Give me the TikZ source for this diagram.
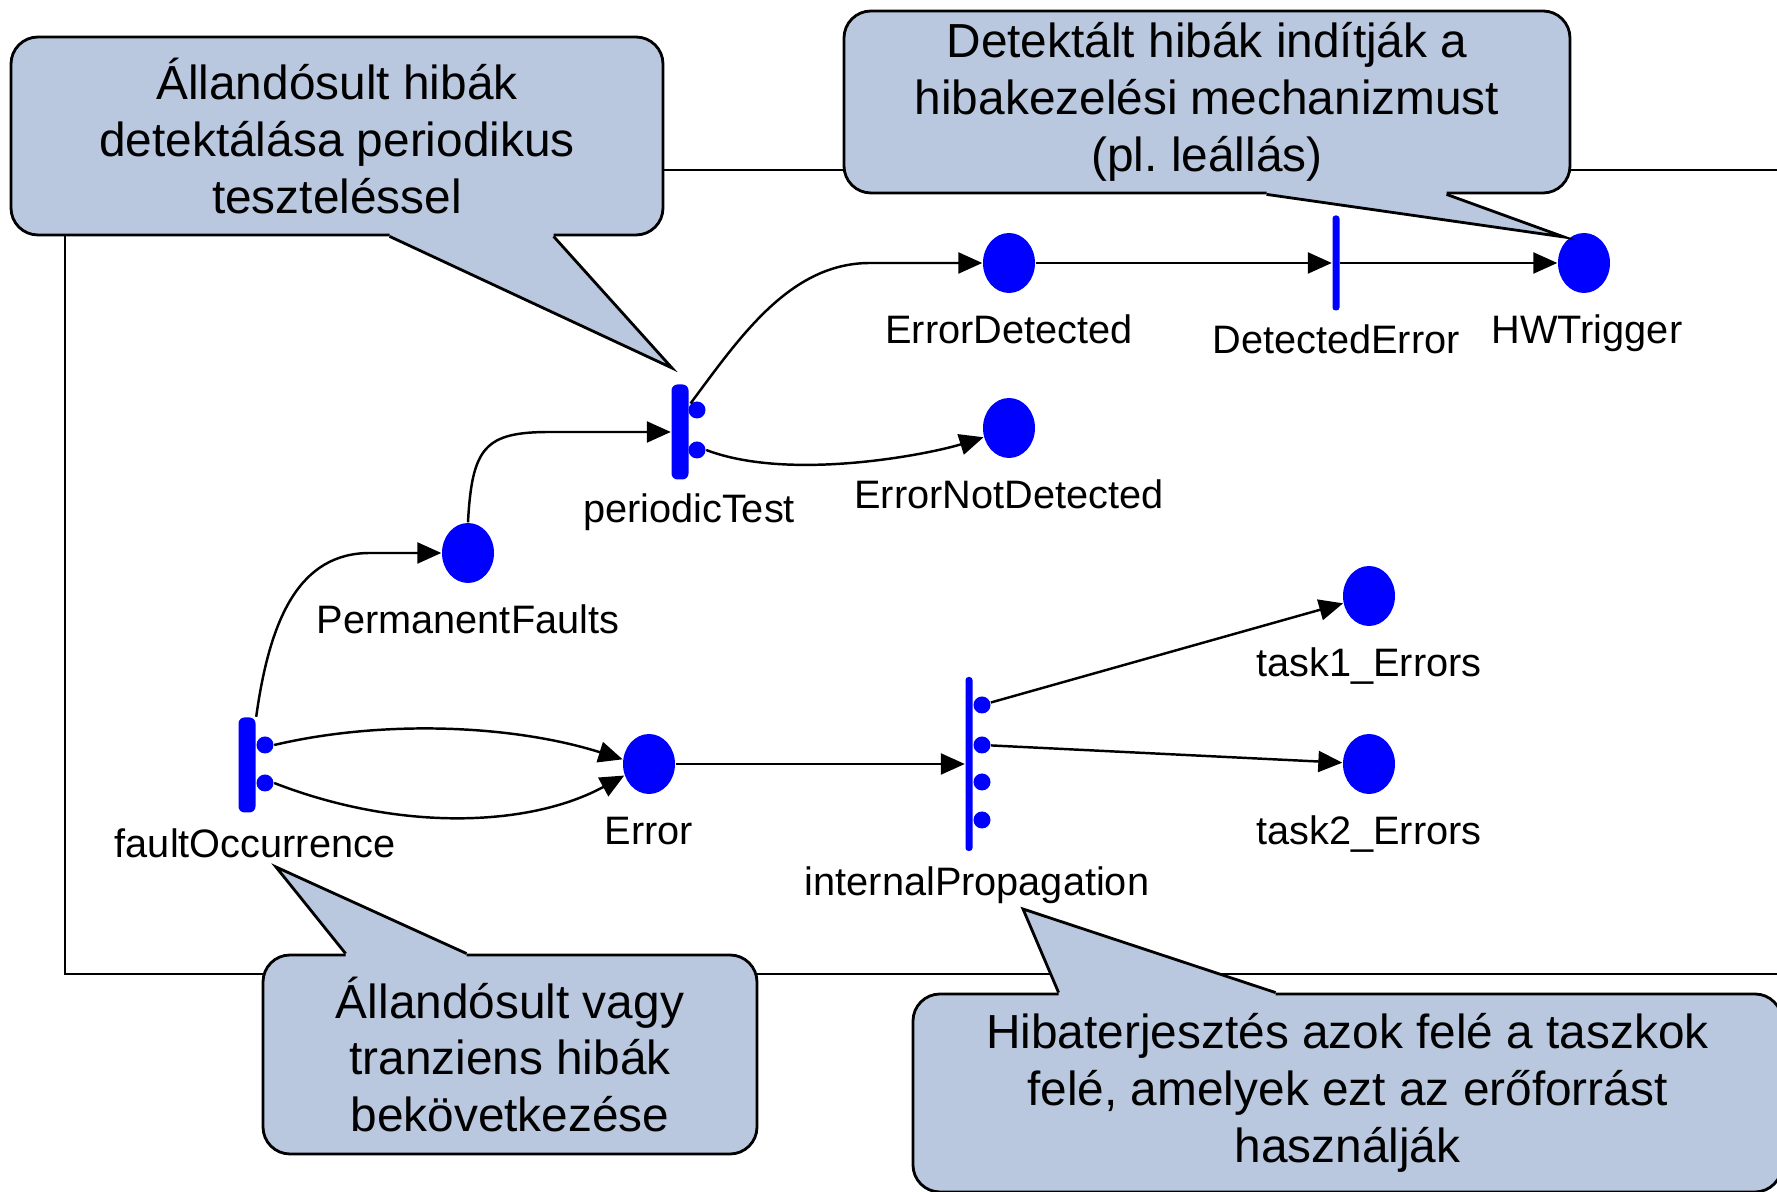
\documentclass[tikz,border=0pt]{standalone}
\usepackage{fontspec}
\setmainfont{Liberation Sans}
\usetikzlibrary{shapes.geometric,arrows.meta,positioning,calc}
\frenchspacing

\definecolor{bubblefill}{RGB}{185,200,222}
\definecolor{netblue}{RGB}{0,0,255}

\begin{document}
\begin{tikzpicture}[
  placenode/.style={fill=netblue, ellipse, minimum width=0.52cm, minimum height=0.60cm, inner sep=0pt},
  transbar/.style={fill=netblue, rectangle, rounded corners=0.06cm, minimum width=0.17cm, minimum height=0.95cm, inner sep=0pt},
  thinbar/.style={transbar, minimum width=0.07cm, rounded corners=0.03cm},
  port/.style={fill=netblue, circle, minimum size=0.17cm, inner sep=0pt},
  lbl/.style={inner sep=0pt, text height=8.5pt, text depth=2.5pt, font=\fontsize{11.3}{13}\selectfont},
  flow/.style={-{Triangle[length=2.4mm, width=2.1mm]}, line width=0.7pt},
  bubble/.style={draw, line width=0.8pt, fill=bubblefill, rounded corners=0.27cm, align=center, inner sep=0pt, font=\fontsize{13.6}{16.2}\selectfont}
]
\useasboundingbox (0,0) rectangle (17.77,11.92);
\clip (0,0) rectangle (17.77,11.92);

% keret
\draw[line width=0.8pt] (0.65,2.18) rectangle (18.5,10.22);

% helyek
\node[placenode] (ed) at (10.09,9.29) {};
\node[placenode] (en) at (10.09,7.64) {};
\node[placenode] (hw) at (15.84,9.29) {};
\node[placenode] (pf) at (4.68,6.39) {};
\node[placenode] (er) at (6.49,4.28) {};
\node[placenode] (t1) at (13.69,5.96) {};
\node[placenode] (t2) at (13.69,4.28) {};

% tranziciok
\node[transbar] (fo) at (2.47,4.27) {};
\node[port] (fo1) at (2.65,4.47) {};
\node[port] (fo2) at (2.65,4.09) {};
\node[transbar] (pt) at (6.80,7.60) {};
\node[port] (pt1) at (6.97,7.82) {};
\node[port] (pt2) at (6.97,7.42) {};
\node[thinbar] (de) at (13.36,9.29) {};
\node[thinbar, minimum height=1.74cm] (ip) at (9.69,4.28) {};
\foreach \i/\y in {1/4.87, 2/4.47, 3/4.10, 4/3.72}
  \node[port] (ip\i) at (9.82,\y) {};

% feliratok
\node[lbl, below=0.19cm of ed] (edl) {ErrorDetected};
\node[lbl, below=0.19cm of en] (enl) {ErrorNotDetected};
\node[lbl, below=0.19cm of hw, xshift=0.03cm] (hwl) {HWTrigger};
\node[lbl, below=0.12cm of de] (del) {DetectedError};
\node[lbl, below=0.12cm of pt, xshift=0.09cm] (ptl) {periodicTest};
\node[lbl, below=0.19cm of pf] (pfl) {PermanentFaults};
\node[lbl, below=0.14cm of fo, xshift=0.08cm] (fol) {faultOccurrence};
\node[lbl, below=0.19cm of er] (erl) {Error};
\node[lbl, below=0.13cm of ip, xshift=0.08cm] (ipl) {internalPropagation};
\node[lbl, below=0.19cm of t1] (t1l) {task1\_Errors};
\node[lbl, below=0.19cm of t2] (t2l) {task2\_Errors};

% elek
\draw[flow] (fo.north east) .. controls (2.70,5.75) and (3.00,6.39) .. (3.70,6.39) -- (pf.west);
\draw[flow] (pf.north) .. controls (4.72,7.45) and (4.85,7.60) .. (5.50,7.60) -- (pt.west);
\draw[flow] (pt1.north west) .. controls (7.40,8.55) and (7.90,9.29) .. (8.70,9.29) -- (ed.west);
\draw[flow] (pt2.east) .. controls (7.90,7.10) and (9.30,7.38) .. (en.200);
\draw[flow] (ed) -- (de);
\draw[flow] (de) -- (hw);
\draw[flow] (fo1.east) .. controls (3.80,4.72) and (5.10,4.68) .. (er.170);
\draw[flow] (fo2.east) .. controls (4.00,3.60) and (5.30,3.65) .. (er.205);
\draw[flow] (er) -- (ip);
\draw[flow] (ip1) -- (t1);
\draw[flow] (ip2) -- (t2);

% buborek 1
\node[bubble, minimum width=6.52cm, minimum height=1.98cm] (b1) at (3.37,10.56) {Állandósult hibák\\detektálása periodikus\\teszteléssel};
\coordinate (b1tip) at (6.72,8.24);
\fill[bubblefill] ($(b1.south west)+(3.80,0.05)$) -- ($(b1.south west)+(3.80,0)$) -- (b1tip) -- ($(b1.south west)+(5.44,0)$) -- ($(b1.south west)+(5.44,0.05)$) -- cycle;
\draw[line width=0.8pt] ($(b1.south west)+(3.80,0)$) -- (b1tip) -- ($(b1.south west)+(5.44,0)$);

% buborek 2
\node[bubble, minimum width=7.26cm, minimum height=1.82cm] (b2) at (12.07,10.90) {Detektált hibák indítják a\\hibakezelési mechanizmust\\(pl. leállás)};
\coordinate (b2tip) at (15.64,9.55);
\fill[bubblefill] ($(b2.south west)+(4.24,0.05)$) -- ($(b2.south west)+(4.24,0)$) -- (b2tip) -- ($(b2.south west)+(6.04,0)$) -- ($(b2.south west)+(6.04,0.05)$) -- cycle;
\draw[line width=0.8pt] ($(b2.south west)+(4.24,0)$) -- (b2tip) -- ($(b2.south west)+(6.04,0)$);

% buborek 3
\node[bubble, minimum width=4.94cm, minimum height=1.99cm] (b3) at (5.10,1.375) {Állandósult vagy\\tranziens hibák\\bekövetkezése};
\coordinate (b3tip) at (2.76,3.25);
\fill[bubblefill] ($(b3.north west)+(0.84,-0.05)$) -- ($(b3.north west)+(0.84,0)$) -- (b3tip) -- ($(b3.north west)+(2.05,0)$) -- ($(b3.north west)+(2.05,-0.05)$) -- cycle;
\draw[line width=0.8pt] ($(b3.north west)+(0.84,0)$) -- (b3tip) -- ($(b3.north west)+(2.05,0)$);

% buborek 4
\node[bubble, minimum width=8.69cm, minimum height=1.98cm] (b4) at (13.475,0.99) {Hibaterjesztés azok felé a taszkok\\felé, amelyek ezt az erőforrást\\használják};
\coordinate (b4tip) at (10.23,2.83);
\fill[bubblefill] ($(b4.north west)+(1.47,-0.05)$) -- ($(b4.north west)+(1.47,0)$) -- (b4tip) -- ($(b4.north west)+(3.64,0)$) -- ($(b4.north west)+(3.64,-0.05)$) -- cycle;
\draw[line width=0.8pt] ($(b4.north west)+(1.47,0)$) -- (b4tip) -- ($(b4.north west)+(3.64,0)$);
\end{tikzpicture}
\end{document}
